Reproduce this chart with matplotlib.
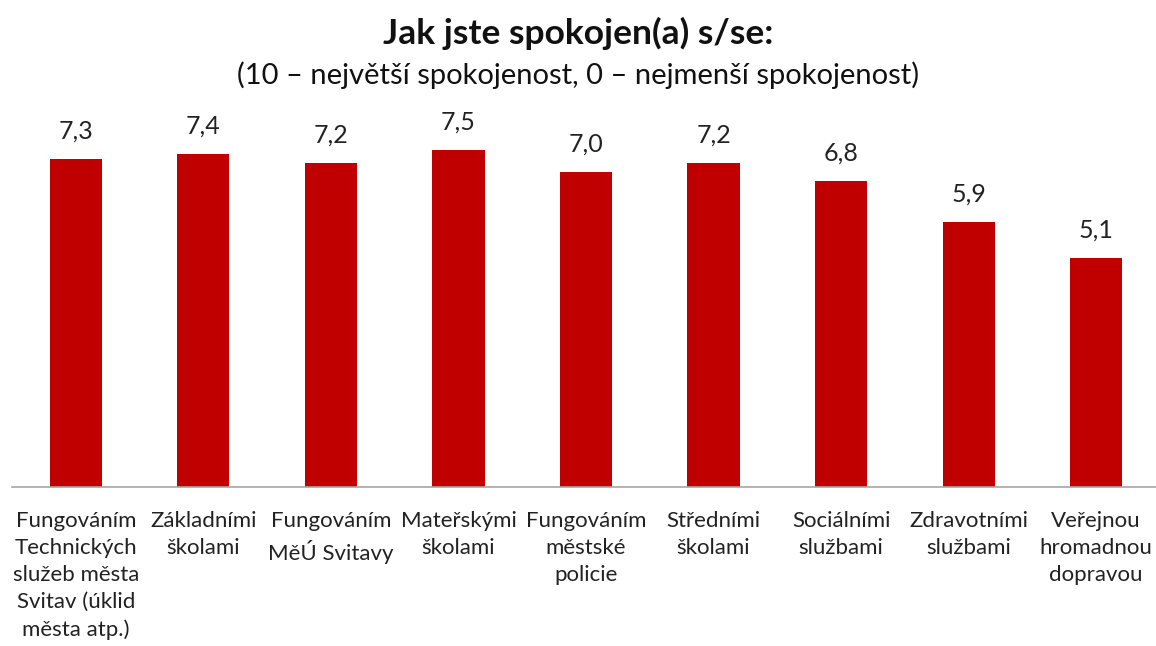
import matplotlib.pyplot as plt
import numpy as np

plt.rcParams['font.family'] = ['Lato', 'DejaVu Sans']

categories = [
    'Fungováním\nTechnických\nslužeb města\nSvitav (úklid\nměsta atp.)',
    'Základními\nškolami',
    'Fungováním\nMěÚ Svitavy',
    'Mateřskými\nškolami',
    'Fungováním\nměstské\npolicie',
    'Středními\nškolami',
    'Sociálními\nslužbami',
    'Zdravotními\nslužbami',
    'Veřejnou\nhromadnou\ndopravou',
]
values = [7.3, 7.4, 7.2, 7.5, 7.0, 7.2, 6.8, 5.9, 5.1]
value_labels = ['7,3', '7,4', '7,2', '7,5', '7,0', '7,2', '6,8', '5,9', '5,1']

fig = plt.figure(figsize=(11.56, 6.46), dpi=100)
ax = fig.add_axes([12 / 1156, 159 / 646, 1148 / 1156, 360 / 646])

x = np.arange(len(values))
bars = ax.bar(x, values, width=0.41, color='#C00000')

for b, lab in zip(bars, value_labels):
    ax.text(b.get_x() + b.get_width() / 2, b.get_height() + 0.36, lab,
            ha='center', va='bottom', fontsize=18, color='#222222')

ax.set_xlim(-0.5, len(values) - 0.5)
ax.set_ylim(0, 8)
for s in ['top', 'right', 'left']:
    ax.spines[s].set_visible(False)
ax.spines['bottom'].set_color('#A6A6A6')
ax.spines['bottom'].set_linewidth(1.2)
ax.set_yticks([])
ax.set_xticks(x)
ax.set_xticklabels(categories, fontsize=16, linespacing=1.45, va='top')
ax.tick_params(axis='x', length=0, pad=17, colors='#222222')

fig.text(0.5, 1 - 33 / 646, 'Jak jste spokojen(a) s/se:', ha='center', va='center',
         fontsize=25.5, fontweight='bold', color='#111111')
fig.text(0.5, 1 - 75 / 646, '(10 – největší spokojenost, 0 – nejmenší spokojenost)',
         ha='center', va='center', fontsize=21, color='#111111')

fig.savefig('out.png', dpi=100)
